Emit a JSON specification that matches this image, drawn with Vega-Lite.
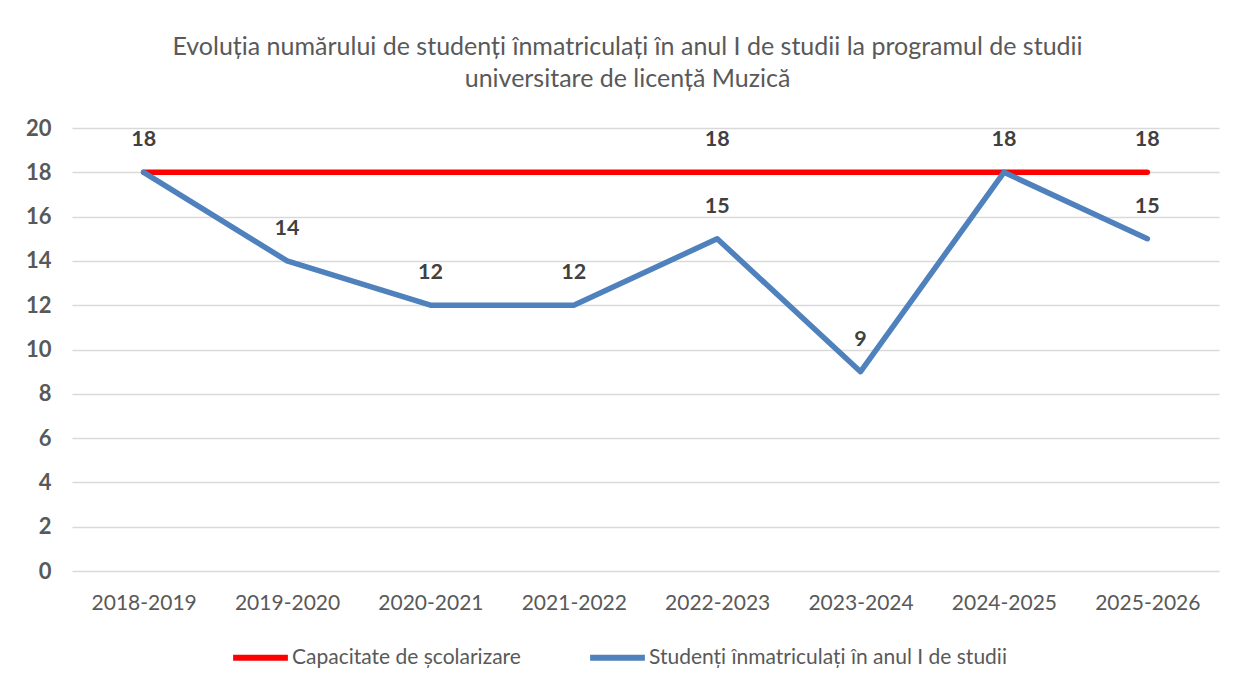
{
  "$schema": "https://vega.github.io/schema/vega-lite/v6.json",
  "width": 1147,
  "height": 443,
  "autosize": {"type": "none"},
  "padding": {"left": 72, "top": 128, "right": 16, "bottom": 117},
  "background": "white",
  "config": {
    "font": "Lato",
    "view": {"stroke": null}
  },
  "title": {
    "text": ["Evoluția numărului de studenți înmatriculați în anul I de studii la programul de studii", "universitare de licență Muzică"],
    "fontSize": 25,
    "fontWeight": "normal",
    "color": "#595959",
    "font": "Lato",
    "lineHeight": 32,
    "offset": 25,
    "dx": -18
  },
  "data": {
    "values": [
      {"an": "2018-2019", "serie": "Capacitate de școlarizare", "valoare": 18},
      {"an": "2019-2020", "serie": "Capacitate de școlarizare", "valoare": 18},
      {"an": "2020-2021", "serie": "Capacitate de școlarizare", "valoare": 18},
      {"an": "2021-2022", "serie": "Capacitate de școlarizare", "valoare": 18},
      {"an": "2022-2023", "serie": "Capacitate de școlarizare", "valoare": 18},
      {"an": "2023-2024", "serie": "Capacitate de școlarizare", "valoare": 18},
      {"an": "2024-2025", "serie": "Capacitate de școlarizare", "valoare": 18},
      {"an": "2025-2026", "serie": "Capacitate de școlarizare", "valoare": 18},
      {"an": "2018-2019", "serie": "Studenți înmatriculați în anul I de studii", "valoare": 18},
      {"an": "2019-2020", "serie": "Studenți înmatriculați în anul I de studii", "valoare": 14},
      {"an": "2020-2021", "serie": "Studenți înmatriculați în anul I de studii", "valoare": 12},
      {"an": "2021-2022", "serie": "Studenți înmatriculați în anul I de studii", "valoare": 12},
      {"an": "2022-2023", "serie": "Studenți înmatriculați în anul I de studii", "valoare": 15},
      {"an": "2023-2024", "serie": "Studenți înmatriculați în anul I de studii", "valoare": 9},
      {"an": "2024-2025", "serie": "Studenți înmatriculați în anul I de studii", "valoare": 18},
      {"an": "2025-2026", "serie": "Studenți înmatriculați în anul I de studii", "valoare": 15}
    ]
  },
  "encoding": {
    "x": {
      "field": "an",
      "type": "ordinal",
      "sort": null,
      "scale": {"type": "point", "padding": 0.5},
      "axis": {
        "title": null,
        "labelAngle": 0,
        "labelFontSize": 21,
        "labelColor": "#595959",
        "labelPadding": 21,
        "ticks": false,
        "domain": false,
        "grid": false
      }
    },
    "y": {
      "field": "valoare",
      "type": "quantitative",
      "scale": {"domain": [0, 20]},
      "axis": {
        "title": null,
        "values": [0, 2, 4, 6, 8, 10, 12, 14, 16, 18, 20],
        "labelFontSize": 22,
        "labelFontWeight": "bold",
        "labelColor": "#595959",
        "labelPadding": 21,
        "ticks": false,
        "domain": false,
        "gridColor": "#D9D9D9",
        "gridWidth": 1.5
      }
    }
  },
  "layer": [
    {
      "mark": {"type": "line", "strokeCap": "round", "strokeJoin": "round", "strokeWidth": 5.5},
      "encoding": {
        "color": {
          "field": "serie",
          "type": "nominal",
          "scale": {
            "domain": ["Capacitate de școlarizare", "Studenți înmatriculați în anul I de studii"],
            "range": ["#FF0000", "#4F81BD"]
          },
          "legend": {
            "title": null,
            "orient": "none",
            "legendX": 158,
            "legendY": 499,
            "direction": "horizontal",
            "symbolType": "stroke",
            "symbolStrokeWidth": 6,
            "symbolSize": 3000,
            "labelFontSize": 21,
            "labelLimit": 0,
            "labelColor": "#595959",
            "labelOffset": 1,
            "columnPadding": 57
          }
        },
        "order": {"field": "serie", "sort": "ascending"}
      }
    },
    {
      "transform": [
        {
          "filter": "datum.serie == 'Capacitate de școlarizare' ? indexof(['2018-2019','2022-2023','2024-2025','2025-2026'], datum.an) >= 0 : indexof(['2018-2019','2024-2025'], datum.an) < 0"
        }
      ],
      "mark": {
        "type": "text",
        "fontSize": 21.5,
        "fontWeight": "bold",
        "color": "#404040",
        "baseline": "middle",
        "dy": -32
      },
      "encoding": {
        "text": {"field": "valoare", "type": "quantitative"}
      }
    }
  ]
}
